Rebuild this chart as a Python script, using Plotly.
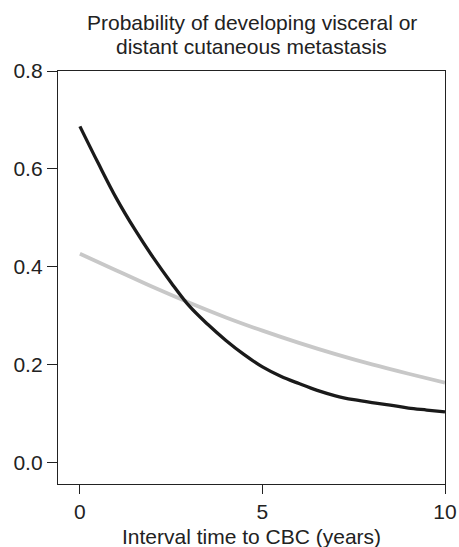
import plotly.graph_objects as go

# Data
years_black = [0, 0.5, 1, 1.5, 2, 2.5, 3, 3.5, 4, 4.5, 5, 5.5, 6, 6.5, 7, 7.5, 8, 8.5, 9, 9.5, 10]
prob_black = [0.687, 0.612, 0.540, 0.477, 0.420, 0.368, 0.320, 0.283, 0.250, 0.221, 0.196, 0.177, 0.162, 0.148, 0.137, 0.129, 0.123, 0.118, 0.112, 0.108, 0.104]

years_gray = [0, 1, 2, 3, 4, 5, 6, 7, 8, 9, 10]
prob_gray = [0.427, 0.393, 0.359, 0.327, 0.297, 0.270, 0.245, 0.222, 0.201, 0.182, 0.164]

title_lines = ["Probability of developing visceral or", "distant cutaneous metastasis"]
x_title = "Interval time to CBC (years)"
x_ticks = [0, 5, 10]
y_ticks = [0.0, 0.2, 0.4, 0.6, 0.8]
y_ticklabels = ["0.0", "0.2", "0.4", "0.6", "0.8"]

FONT = "Liberation Sans, Arial, Helvetica, sans-serif"
TXT = "#222222"

fig = go.Figure()
fig.add_trace(go.Scatter(x=years_gray, y=prob_gray, mode="lines",
                         line=dict(color="#c8c8c8", width=3.8, shape="spline"),
                         showlegend=False, hoverinfo="skip"))
fig.add_trace(go.Scatter(x=years_black, y=prob_black, mode="lines",
                         line=dict(color="#1a1a1a", width=3.3, shape="spline"),
                         showlegend=False, hoverinfo="skip"))

annotations = [
    dict(text=title_lines[0], xref="paper", yref="paper", x=0.5, y=1,
         xanchor="center", yanchor="middle", yshift=48.5, showarrow=False,
         font=dict(family=FONT, size=21, color=TXT)),
    dict(text=title_lines[1], xref="paper", yref="paper", x=0.5, y=1,
         xanchor="center", yanchor="middle", yshift=24.5, showarrow=False,
         font=dict(family=FONT, size=21, color=TXT)),
    dict(text=x_title, xref="paper", yref="paper", x=0.5, y=0,
         xanchor="center", yanchor="middle", yshift=-52.5, showarrow=False,
         font=dict(family=FONT, size=21, color=TXT)),
]

fig.update_layout(
    width=459, height=547,
    margin=dict(l=58, r=14, t=71, b=63, autoexpand=False),
    paper_bgcolor="white", plot_bgcolor="white",
    font=dict(family=FONT, size=21, color=TXT),
    annotations=annotations,
)
fig.update_xaxes(range=[-0.6, 10], tickvals=x_ticks, ticks="outside", ticklen=9,
                 tickwidth=1.2, tickcolor=TXT, showline=True, linecolor=TXT,
                 linewidth=1.3, mirror=True, showgrid=False, zeroline=False,
                 automargin=False, tickfont=dict(size=21, color=TXT))
fig.update_yaxes(range=[-0.043, 0.8], tickvals=y_ticks, ticktext=y_ticklabels,
                 ticks="outside", ticklen=10,
                 tickwidth=1.2, tickcolor=TXT, showline=True, linecolor=TXT,
                 linewidth=1.3, mirror=True, showgrid=False, zeroline=False,
                 automargin=False, tickfont=dict(size=21, color=TXT))

fig.write_html("out.html", config={"displayModeBar": False},
               post_script="document.body.style.margin='0';document.body.style.overflow='hidden';")
